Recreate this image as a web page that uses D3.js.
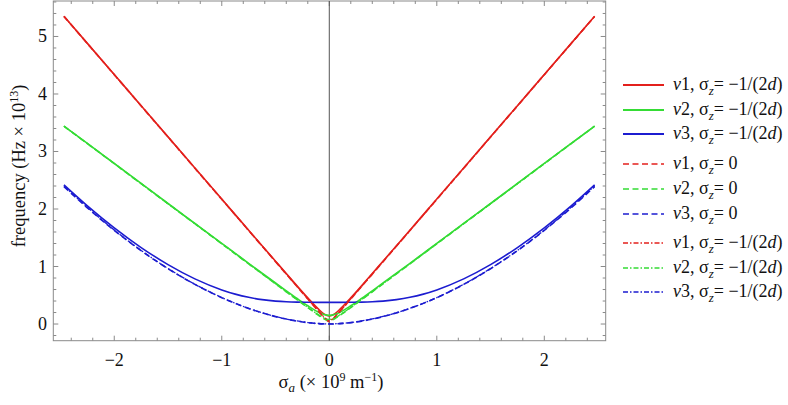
<!DOCTYPE html>
<html><head><meta charset="utf-8">
<script src="https://cdn.jsdelivr.net/npm/d3@7"></script>
<style>body{margin:0;background:#fff}svg{display:block}</style>
</head><body><svg id="c" width="788" height="405" font-family="'Liberation Serif', 'Times New Roman', 'DejaVu Serif', serif"></svg>
<script>
const xs = [-2.468,-2.25,-2,-1.75,-1.5,-1.25,-1,-0.875,-0.75,-0.625,-0.5,-0.4,-0.3,-0.2,-0.1,-0.05,0,0.05,0.1,0.2,0.3,0.4,0.5,0.625,0.75,0.875,1,1.25,1.5,1.75,2,2.25,2.468];
const v1Solid = [5.352,4.88,4.338,3.797,3.255,2.714,2.173,1.902,1.632,1.362,1.093,0.878,0.665,0.456,0.258,0.177,0.14,0.177,0.258,0.456,0.665,0.878,1.093,1.362,1.632,1.902,2.173,2.714,3.255,3.797,4.338,4.88,5.352];
const v2Solid = [3.44,3.14,2.792,2.444,2.096,1.749,1.402,1.229,1.056,0.884,0.713,0.577,0.444,0.317,0.205,0.165,0.15,0.165,0.205,0.317,0.444,0.577,0.713,0.884,1.056,1.229,1.402,1.749,2.096,2.444,2.792,3.14,3.44];
const v3Solid = [2.42,2.055,1.672,1.33,1.033,0.785,0.593,0.52,0.464,0.424,0.398,0.386,0.38,0.378,0.377,0.377,0.377,0.377,0.377,0.378,0.38,0.386,0.398,0.424,0.464,0.52,0.593,0.785,1.033,1.33,1.672,2.055,2.42];
const v1Dash = [5.35,4.878,4.336,3.794,3.252,2.71,2.168,1.897,1.626,1.355,1.085,0.868,0.652,0.435,0.221,0.116,0.04,0.116,0.221,0.435,0.652,0.868,1.085,1.355,1.626,1.897,2.168,2.71,3.252,3.794,4.336,4.878,5.35];
const v2Dash = [3.44,3.137,2.789,2.44,2.092,1.744,1.395,1.221,1.047,0.873,0.7,0.561,0.423,0.285,0.152,0.092,0.06,0.092,0.152,0.285,0.423,0.561,0.7,0.873,1.047,1.221,1.395,1.744,2.092,2.44,2.789,3.137,3.44];
const v3Dash = [2.39,2.02,1.629,1.275,0.962,0.689,0.458,0.359,0.271,0.194,0.129,0.086,0.051,0.024,0.007,0.002,0,0.002,0.007,0.024,0.051,0.086,0.129,0.194,0.271,0.359,0.458,0.689,0.962,1.275,1.629,2.02,2.39];
const v1DotDash = [5.35,4.878,4.336,3.794,3.252,2.71,2.168,1.897,1.626,1.355,1.086,0.869,0.653,0.438,0.225,0.124,0.06,0.124,0.225,0.438,0.653,0.869,1.086,1.355,1.626,1.897,2.168,2.71,3.252,3.794,4.336,4.878,5.35];
const v2DotDash = [3.44,3.137,2.789,2.44,2.092,1.744,1.396,1.222,1.048,0.875,0.702,0.563,0.426,0.29,0.161,0.106,0.08,0.106,0.161,0.29,0.426,0.563,0.702,0.875,1.048,1.222,1.396,1.744,2.092,2.44,2.789,3.137,3.44];
const v3DotDash = [2.40,2.03,1.635,1.28,0.966,0.692,0.46,0.361,0.273,0.196,0.131,0.088,0.053,0.026,0.009,0.004,0.002,0.004,0.009,0.026,0.053,0.088,0.131,0.196,0.273,0.361,0.46,0.692,0.966,1.28,1.635,2.03,2.40];
const xTicks = [-2,-1,0,1,2];
const yTicks = [0,1,2,3,4,5];
const seriesNames = ["v1","v2","v3","v1","v2","v3","v1","v2","v3"];
const seriesSigma = ["−1/(2d)","−1/(2d)","−1/(2d)","0","0","0","−1/(2d)","−1/(2d)","−1/(2d)"];

const RED="#e3201c", GREEN="#35dc35", BLUE="#1c1cd0";
const DASH="6,3.5", DOTDASH="5,2,1.5,2";
const series = [
  {y:v1Solid,c:RED,dash:null,w:1.6},{y:v2Solid,c:GREEN,dash:null,w:1.6},{y:v3Solid,c:BLUE,dash:null,w:1.6},
  {y:v1Dash,c:RED,dash:DASH,w:1.6},{y:v2Dash,c:GREEN,dash:DASH,w:1.6},{y:v3Dash,c:BLUE,dash:DASH,w:1.6},
  {y:v1DotDash,c:RED,dash:DOTDASH,w:1.3},{y:v2DotDash,c:GREEN,dash:DOTDASH,w:1.3},{y:v3DotDash,c:BLUE,dash:DOTDASH,w:1.3}
];

const svg = d3.select("#c");
const L=53.3,R=605.7,T=1,B=340.7;
const x = d3.scaleLinear().domain([-2.567,2.571]).range([L,R]);
const y = d3.scaleLinear().domain([-0.29,5.617]).range([B,T]);

const frameCol="#8a8a8a";
svg.append("rect").attr("x",L).attr("y",T).attr("width",R-L).attr("height",B-T)
  .attr("fill","none").attr("stroke",frameCol).attr("stroke-width",1);

const xMinor = d3.range(-2.4,2.41,0.2).map(v=>+v.toFixed(2)).filter(v=>!xTicks.some(t=>Math.abs(t-v)<1e-6));
const yMinor = d3.range(-0.2,5.61,0.2).map(v=>+v.toFixed(2)).filter(v=>!yTicks.some(t=>Math.abs(t-v)<1e-6));
const tk = svg.append("g").attr("stroke",frameCol).attr("stroke-width",1);
function xt(vals,len){vals.forEach(v=>{const px=x(v);
  tk.append("line").attr("x1",px).attr("x2",px).attr("y1",B).attr("y2",B-len);
  tk.append("line").attr("x1",px).attr("x2",px).attr("y1",T).attr("y2",T+len);});}
function yt(vals,len){vals.forEach(v=>{const py=y(v);
  tk.append("line").attr("y1",py).attr("y2",py).attr("x1",L).attr("x2",L+len);
  tk.append("line").attr("y1",py).attr("y2",py).attr("x1",R).attr("x2",R-len);});}
xt(xTicks,5);xt(xMinor,3);yt(yTicks,5);yt(yMinor,3);

xTicks.forEach(v=>svg.append("text").attr("x",x(v)).attr("y",366).attr("text-anchor","middle")
  .attr("font-size",18).attr("fill","#111").text(v<0?"−"+Math.abs(v):String(v)));
yTicks.forEach(v=>svg.append("text").attr("x",47).attr("y",y(v)+6).attr("text-anchor","end")
  .attr("font-size",18).attr("fill","#111").text(String(v)));

svg.append("line").attr("x1",x(0)).attr("x2",x(0)).attr("y1",T).attr("y2",B)
  .attr("stroke","#555").attr("stroke-width",1);

svg.append("clipPath").attr("id","cp").append("rect").attr("x",L).attr("y",T).attr("width",R-L).attr("height",B-T);
const line = d3.line().x((d,i)=>x(xs[i])).y(d=>y(d)).curve(d3.curveMonotoneX);
series.forEach(s=>{
  svg.append("path").attr("d",line(s.y)).attr("fill","none").attr("stroke",s.c)
    .attr("stroke-width",s.w).attr("stroke-dasharray",s.dash).attr("clip-path","url(#cp)");
});

const xl = svg.append("text").attr("x",331).attr("y",388).attr("text-anchor","middle").attr("font-size",18.5).attr("fill","#111");
xl.append("tspan").text("σ");
xl.append("tspan").attr("font-style","italic").attr("font-size",13).attr("dy",4).text("a");
xl.append("tspan").attr("dy",-4).text(" (× 10");
xl.append("tspan").attr("font-size",12).attr("dy",-7).text("9");
xl.append("tspan").attr("dy",7).text(" m");
xl.append("tspan").attr("font-size",12).attr("dy",-7).text("−1");
xl.append("tspan").attr("dy",7).text(")");

const yl = svg.append("text").attr("transform","translate(25,166) rotate(-90)").attr("text-anchor","middle").attr("font-size",18.5).attr("fill","#111");
yl.append("tspan").text("frequency (Hz × 10");
yl.append("tspan").attr("font-size",12).attr("dy",-7).text("13");
yl.append("tspan").attr("dy",7).text(")");

const rowsY = [85,110,134,164,189,214,243,268,292];
series.forEach((s,i)=>{
  const g = svg.append("g");
  g.append("line").attr("x1",623).attr("x2",664).attr("y1",rowsY[i]).attr("y2",rowsY[i])
    .attr("stroke",s.c).attr("stroke-width",i<3?2.2:1.4).attr("stroke-dasharray",s.dash);
  const t = g.append("text").attr("x",673).attr("y",rowsY[i]+5).attr("font-size",18).attr("fill","#111");
  t.append("tspan").attr("font-style","italic").text(seriesNames[i].slice(0,1));
  t.append("tspan").text(seriesNames[i].slice(1)+", σ");
  t.append("tspan").attr("font-style","italic").attr("font-size",13).attr("dy",5).text("z");
  if(seriesSigma[i]==="0"){ t.append("tspan").attr("dy",-5).text("= 0"); }
  else {
    t.append("tspan").attr("dy",-5).text("= −1/(2");
    t.append("tspan").attr("font-style","italic").text("d");
    t.append("tspan").text(")");
  }
});
</script></body></html>
